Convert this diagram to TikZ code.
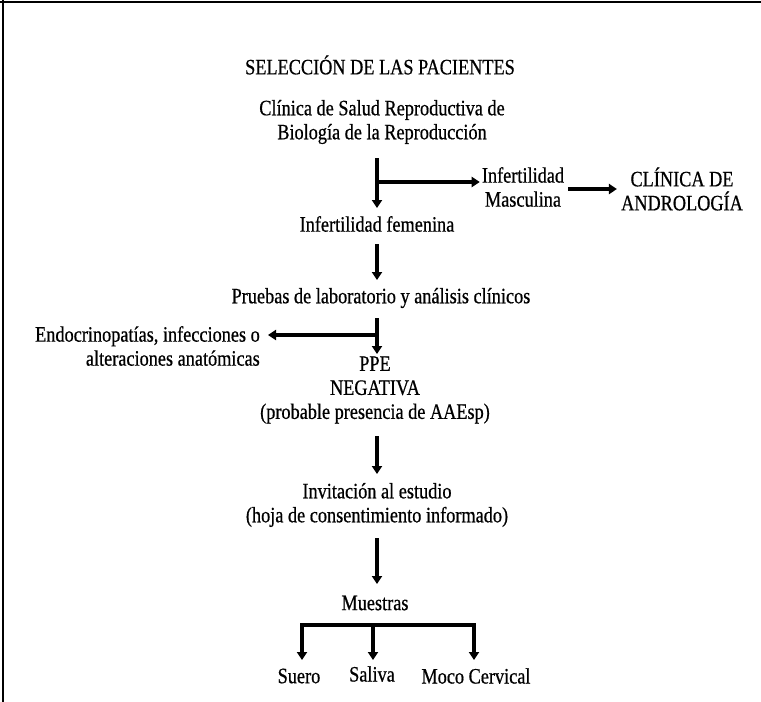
\documentclass[tikz,border=0pt]{standalone}
\usepackage{fontspec}
\setmainfont{Liberation Serif}[FakeStretch=0.83,FakeBold=0.6]
\usepackage{tikz}
\usetikzlibrary{positioning,calc}
\usetikzlibrary{arrows.meta}
\tikzset{
  txt/.style={inner sep=0pt,align=center,font=\fontsize{22}{24}\selectfont},
  flow/.style={draw=black,line width=3.5pt,-{Triangle[width=10pt,length=8pt]}},
  bar/.style={draw=black,line width=3.5pt},
  frame/.style={draw=black,line width=1.6pt},
}

\begin{document}
\begin{tikzpicture}[x=1pt,y=-1pt]
\useasboundingbox (0,0) rectangle (761,702);
\draw[frame] (0,2)--(761,2);
\draw[frame] (3,0)--(3,702);
\node[txt] (title) at (380,65) {SELECCIÓN DE LAS PACIENTES};
\node[txt] (clinica) at (382,122) {Clínica de Salud Reproductiva de\\Biología de la Reproducción};
\node[txt] (masc) at (523,187) {Infertilidad\\Masculina};
\node[txt] (andro) at (682,189) {CLÍNICA DE\\ANDROLOGÍA};
\node[txt] (fem) at (377,224) {Infertilidad femenina};
\node[txt] (pruebas) at (381,298) {Pruebas de laboratorio y análisis clínicos};
\node[txt,align=right,anchor=east] (endo) at (260,346) {Endocrinopatías, infecciones o\\alteraciones anatómicas};
\node[txt] (ppe) at (375,390) {PPE\\NEGATIVA\\(probable presencia de AAEsp)};
\node[txt] (invit) at (377,505) {Invitación al estudio\\(hoja de consentimiento informado)};
\node[txt] (muestras) at (375,603) {Muestras};
\node[txt] (suero) at (299,676) {Suero};
\node[txt] (saliva) at (372,674) {Saliva};
\node[txt] (moco) at (476,676) {Moco Cervical};
\coordinate (k1) at (377,158);
\coordinate (k2) at (377,182);
\coordinate (k3) at (377,318);
\coordinate (k4) at (377,335);
\coordinate (b1) at (302,625);
\coordinate (b2) at (373,625);
\coordinate (b3) at (474,625);
\draw[flow] (k1)--(377,208);
\draw[flow] (k2)--([xshift=-2pt]masc.west|-k2);
\draw[flow] ([xshift=4pt]masc.east|-andro)--([xshift=-4pt]andro.west);
\draw[flow] (377,244)--(377,280);
\draw[flow] (k3)--(377,354);
\draw[flow] (k4)--([xshift=8pt]endo.east|-k4);
\draw[flow] (377,436)--(377,474);
\draw[flow] (377,538)--(377,584);
\draw[bar] ([xshift=-1.75pt]b1)--([xshift=1.75pt]b3);
\draw[flow] (b1)--(302,660);
\draw[flow] (b2)--(373,660);
\draw[flow] (b3)--(474,660);
\end{tikzpicture}
\end{document}
